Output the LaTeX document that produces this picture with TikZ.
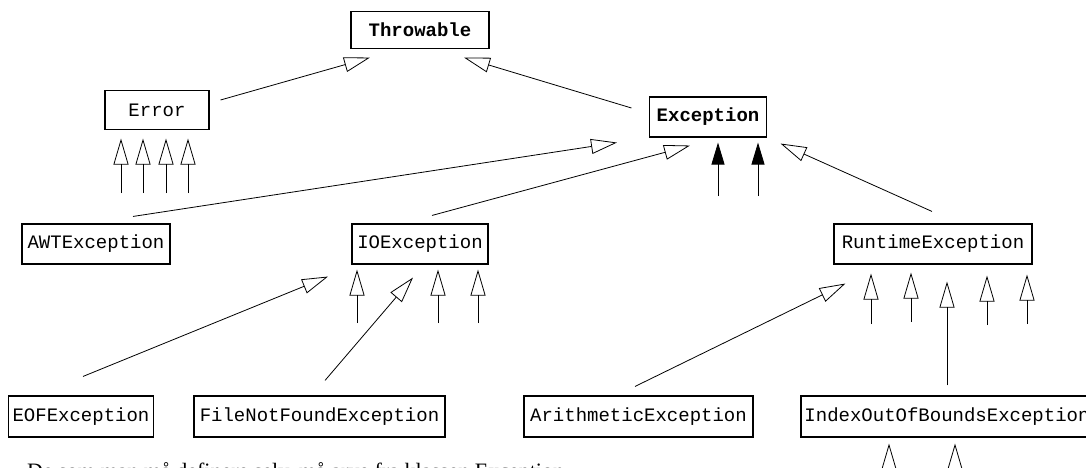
\documentclass[tikz,border=0pt]{standalone}
\usepackage{fontspec}
\setmainfont{Liberation Serif}
\setmonofont{Liberation Mono}
\usetikzlibrary{arrows.meta,calc}
\begin{document}
\begin{tikzpicture}[x=1pt,y=-1pt,
  cls/.style={draw, line width=1.1pt, minimum height=40pt, inner sep=0pt, font=\ttfamily\fontsize{19}{19}\selectfont},
  bcls/.style={cls, font=\ttfamily\bfseries\fontsize{19}{19}\selectfont},
  inh/.style={line width=0.8pt, -{Triangle[open, length=26pt, width=15pt, line width=0.8pt]}},
  impl/.style={line width=0.8pt, -{Triangle[length=22pt, width=13pt]}},
]
\useasboundingbox (0,0) rectangle (1086,468);
\clip (0,0) rectangle (1086,468);
% class boxes
\node[bcls, minimum width=138pt, minimum height=37pt] (thr) at (420,30) {Throwable};
\node[bcls, minimum width=117pt] (exc) at (708,117) {Exception};
\node[cls, minimum width=104pt, minimum height=39pt] (err) at (157,110) {Error};
\node[cls, minimum width=148pt] (awt) at (96,244) {AWTException};
\node[cls, minimum width=136pt] (ioe) at (420,244) {IOException};
\node[cls, minimum width=198pt] (rte) at (933,244) {RuntimeException};
\node[cls, minimum width=145pt, minimum height=41pt] (eof) at (81,416.5) {EOFException};
\node[cls, minimum width=251pt, minimum height=41pt] (fnf) at (319.5,416.5) {FileNotFoundException};
\node[cls, minimum width=229pt, minimum height=41pt] (ari) at (638.5,416.5) {ArithmeticException};
\node[cls, text width=292pt, align=center, minimum height=41pt] (ioob) at (947,416.5) {IndexOutOfBoundsException};
% note (cut by the lower edge, as in the reference)
\node[anchor=north west, inner sep=0pt, font=\fontsize{22}{22}\selectfont] (note) at (27,462) {De som man må definere selv, må arve fra klassen Exception.};
% to Throwable
\draw[inh] ($(err.east)+(11,-10)$) -- ($(thr.south)+(-50,8.5)$);
\draw[inh] ($(exc.west)+(-17.5,-9)$) -- ($(thr.south)+(44,8.5)$);
% to Error
\foreach \i/\x in {1/121,2/143,3/166,4/188}{
  \coordinate (es\i) at (\x,193);
  \draw[inh, shorten >=8.5pt] (es\i) -- (es\i |- err.south);
}
% to Exception
\draw[inh] ($(awt.north)+(37,-7)$) -- ($(exc.south)+(-91,5)$);
\draw[inh] ($(ioe.north)+(12,-8)$) -- ($(exc.south)+(-18,8)$);
\draw[inh] ($(rte.north)+(-1,-12)$) -- ($(exc.south east)+(13.5,6)$);
\coordinate (k1) at (718,196);
\coordinate (k2) at (758,196);
\draw[impl, shorten >=5pt] (k1) -- (k1 |- exc.south);
\draw[impl, shorten >=5pt] (k2) -- (k2 |- exc.south);
% to IOException
\draw[inh] ($(eof.north)+(2,-19)$) -- ($(ioe.south)+(-92,12)$);
\draw[inh] ($(fnf.north)+(5.5,-15)$) -- ($(ioe.south)+(-7,13)$);
\foreach \i/\x in {1/357,2/438,3/478}{
  \coordinate (is\i) at (\x,323);
  \draw[inh, shorten >=5pt] (is\i) -- (is\i |- ioe.south);
}
% to RuntimeException
\draw[inh] ($(ari.north)+(-3.5,-9)$) -- ($(rte.south west)+(12,19)$);
\draw[inh, shorten <=10pt, shorten >=17pt] (ioob.north) -- (ioob.north |- rte.south);
\foreach \i/\x/\y/\s in {1/871/324/9,2/911/322/8,3/987/325/11,4/1027/324/10}{
  \coordinate (rs\i) at (\x,\y);
  \draw[inh, shorten >=\s pt] (rs\i) -- (rs\i |- rte.south);
}
% to IndexOutOfBoundsException
\foreach \i/\x in {1/889,2/955}{
  \coordinate (xs\i) at (\x,495);
  \draw[inh, shorten >=6pt] (xs\i) -- (xs\i |- ioob.south);
}
\end{tikzpicture}
\end{document}
